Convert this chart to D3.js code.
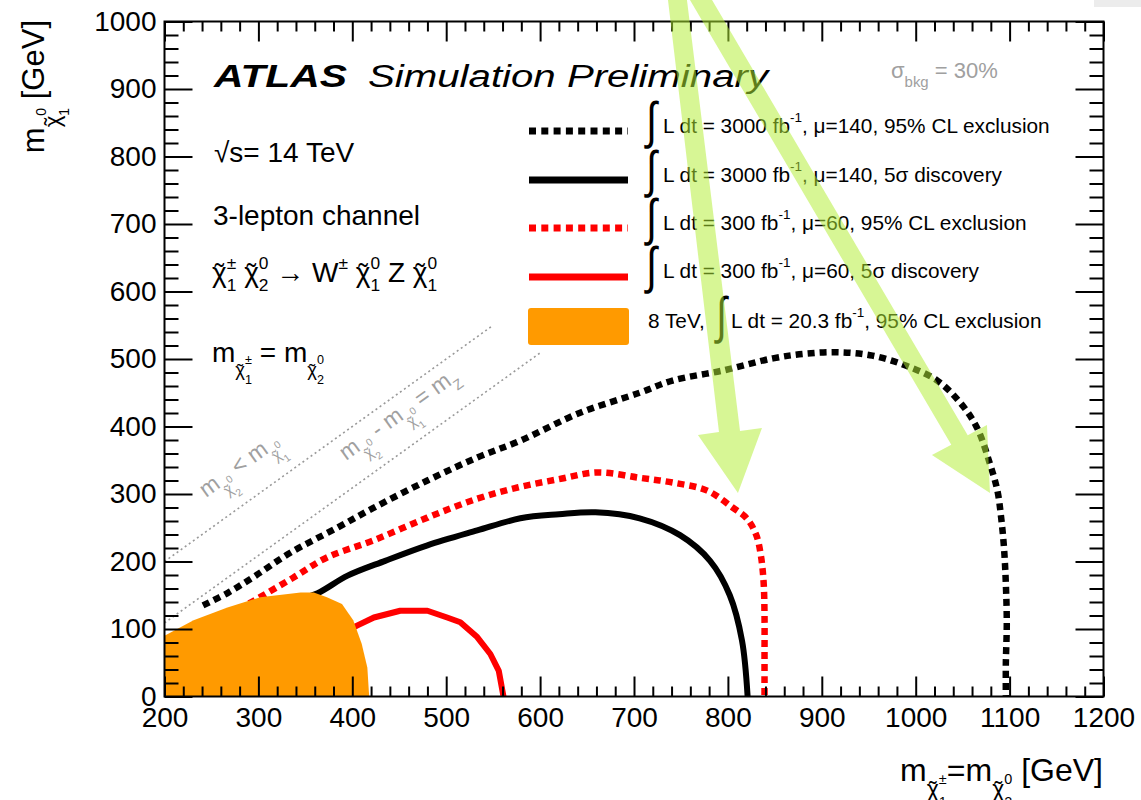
<!DOCTYPE html>
<html><head><meta charset="utf-8">
<script src="https://cdn.jsdelivr.net/npm/d3@7"></script>
<style>body{margin:0;background:#fff} svg{display:block}</style>
</head><body>
<svg id="c" width="1141" height="800"></svg>
<script>
// ---------- data ----------
const xMajorTicks = d3.range(200, 1201, 100);
const xMinorTicks = d3.range(200, 1201, 20).filter(v => v % 100 !== 0);
const yMajorTicks = d3.range(0, 1001, 100);
const yMinorTicks = d3.range(0, 1001, 20).filter(v => v % 100 !== 0);

const kinematicLine = [[200, 200], [550, 550]];   // m(chi2) = m(chi1)
const mzLine = [[200, 109], [600, 509]];          // m(chi2) - m(chi1) = mZ

const excl3000 = [[241,135],[268,154],[297,179],[334,213],[384,250],[422,279],[480,320],[533,354],[579,379],[642,420],[706,450],[741,468],[795,483],[848,501],[884,508],[919,510],[954,505],[990,490],[1023,468],[1047,436],[1065,399],[1079,345],[1087,305],[1091,265],[1094,221],[1096,167],[1097,108],[1096,49],[1096,0]];
const disc3000 = [[345,145],[363,153],[395,179],[435,201],[480,224],[533,246],[579,264],[620,270],[659,273],[706,264],[749,239],[781,201],[802,150],[815,83],[821,0]];
const excl300 = [[290,138],[299,145],[337,176],[373,206],[422,231],[480,265],[533,293],[577,310],[620,322],[661,332],[706,324],[741,317],[778,305],[805,280],[820,264],[830,240],[835,210],[838,170],[839,120],[839,60],[839,0]];
const disc300 = [[398,100],[405,105],[423,117],[451,127],[480,127],[501,117],[515,110],[533,88],[547,63],[556,38],[561,0]];
const excl8TeV = [[200,90],[231,113],[267,132],[302,147],[345,154],[359,154],[373,147],[389,137],[401,113],[410,78],[416,43],[418,0],[200,0]];

// annotation arrows (data units)
const arrow1 = [[736.2,1031.9],[756.4,1031.9],[812.9,393.3],[836.3,397.8],[810.7,301.5],[768.1,387.4],[790.5,391.9]];
const arrow2 = [[759.6,1031.9],[783.1,1031.9],[1055.4,387.1],[1075.9,402.2],[1079.1,301.5],[1017.3,357.8],[1037.9,372.9]];

const legendLabels = [
  {main:"L dt = 3000 fb", rest:", \u03bc=140, 95% CL exclusion"},
  {main:"L dt = 3000 fb", rest:", \u03bc=140, 5\u03c3 discovery"},
  {main:"L dt = 300 fb", rest:", \u03bc=60, 95% CL exclusion"},
  {main:"L dt = 300 fb", rest:", \u03bc=60, 5\u03c3 discovery"}
];

// ---------- setup ----------
const FONT = "'Liberation Sans', Arial, Helvetica, sans-serif";
const svg = d3.select('#c');
const x = d3.scaleLinear().domain([200, 1200]).range([164.5, 1103.5]);
const y = d3.scaleLinear().domain([0, 1000]).range([696.5, 21.5]);

svg.append('rect').attr('x', 1094).attr('y', 0).attr('width', 47).attr('height', 7).attr('fill', '#ececec');

const line = d3.line().x(d => x(d[0])).y(d => y(d[1]));
const smooth = d3.line().x(d => x(d[0])).y(d => y(d[1])).curve(d3.curveCatmullRom.alpha(0.5));

// gray dotted guide lines
[kinematicLine, mzLine].forEach(l => {
  svg.append('path').attr('d', line(l)).attr('fill', 'none').attr('stroke', '#999')
    .attr('stroke-width', 1.6).attr('stroke-dasharray', '2,3');
});

// curves
svg.append('path').attr('d', smooth(excl3000)).attr('fill','none').attr('stroke','#000').attr('stroke-width',6.5).attr('stroke-dasharray','7,5');
svg.append('path').attr('d', smooth(disc3000)).attr('fill','none').attr('stroke','#000').attr('stroke-width',6);
svg.append('path').attr('d', smooth(excl300)).attr('fill','none').attr('stroke','#ff0000').attr('stroke-width',6.5).attr('stroke-dasharray','7,5');
svg.append('path').attr('d', line(disc300)).attr('fill','none').attr('stroke','#ff0000').attr('stroke-width',6).attr('stroke-linejoin','round');

// 8 TeV exclusion
svg.append('path').attr('d', line(excl8TeV) + 'Z').attr('fill', '#ff9a00');

// ---------- axes ----------
function styleAxis(g) {
  g.select('.domain').remove();
  g.selectAll('.tick line').attr('stroke', '#000').attr('stroke-width', 2);
  g.selectAll('.tick text').attr('font-family', FONT).attr('font-size', 28).attr('fill', '#000');
}
svg.append('g').attr('transform', `translate(0,${y(0)})`)
  .call(d3.axisBottom(x).tickValues(xMajorTicks).tickSize(-20).tickPadding(11).tickFormat(d3.format('d'))).call(styleAxis);
svg.append('g').attr('transform', `translate(0,${y(0)})`)
  .call(d3.axisBottom(x).tickValues(xMinorTicks).tickSize(-10).tickFormat('')).call(styleAxis);
svg.append('g').attr('transform', `translate(0,${y(1000)})`)
  .call(d3.axisTop(x).tickValues(xMajorTicks).tickSize(-20).tickFormat('')).call(styleAxis);
svg.append('g').attr('transform', `translate(0,${y(1000)})`)
  .call(d3.axisTop(x).tickValues(xMinorTicks).tickSize(-10).tickFormat('')).call(styleAxis);
svg.append('g').attr('transform', `translate(${x(200)},0)`)
  .call(d3.axisLeft(y).tickValues(yMajorTicks).tickSize(-28).tickPadding(8).tickFormat(d3.format('d'))).call(styleAxis);
svg.append('g').attr('transform', `translate(${x(200)},0)`)
  .call(d3.axisLeft(y).tickValues(yMinorTicks).tickSize(-14).tickFormat('')).call(styleAxis);
svg.append('g').attr('transform', `translate(${x(1200)},0)`)
  .call(d3.axisRight(y).tickValues(yMajorTicks).tickSize(-28).tickFormat('')).call(styleAxis);
svg.append('g').attr('transform', `translate(${x(1200)},0)`)
  .call(d3.axisRight(y).tickValues(yMinorTicks).tickSize(-14).tickFormat('')).call(styleAxis);

svg.append('rect').attr('x', x(200)).attr('y', y(1000)).attr('width', x(1200) - x(200)).attr('height', y(0) - y(1000))
  .attr('fill', 'none').attr('stroke', '#000').attr('stroke-width', 2);

// ---------- rich text helper ----------
function rich(px, py, parts, opts) {
  const g = svg.append('g').attr('transform', `translate(${px},${py}) rotate(${opts.rotate || 0})`);
  const text = g.append('text').attr('font-family', FONT).attr('fill', opts.color || '#000')
    .attr('xml:space', 'preserve').style('white-space', 'pre');
  let cx = 0, prevX = 0, prevW = 0;
  parts.forEach(p => {
    const fs = opts.size * (p.s || 1);
    const ts = text.append('tspan').attr('y', -(p.up || 0) * opts.size).attr('font-size', fs).text(p.t);
    const w = ts.node().getComputedTextLength();
    if (p.over) {
      ts.attr('x', prevX + (prevW - w) / 2);
    } else if (p.stack) {
      ts.attr('x', prevX);
      cx = prevX + Math.max(prevW, w);
    } else {
      ts.attr('x', cx);
      prevX = cx; prevW = w; cx = cx + w;
    }
  });
  if (opts.anchor === 'end') text.attr('transform', `translate(${-cx},0)`);
  return cx;
}
const subChi = (sup, sub, k = 0.66) => [
  {t: '\u03c7', s: k, up: -0.5},
  {t: '\u02dc', s: k, up: -0.52, over: true},
  {t: sup, s: 0.45, up: -0.08},
  {t: sub, s: 0.45, up: -0.8, stack: true}
];
const chiFull = (sup, sub) => [
  {t: '\u03c7'},
  {t: '\u02dc', up: -0.03, over: true},
  {t: sup, s: 0.62, up: 0.48},
  {t: sub, s: 0.62, up: -0.32, stack: true}
];

// axis titles
rich(44, 20, [{t:'m'}, ...subChi('0','1', 0.72), {t:' [GeV]'}], {size: 31, rotate: -90, anchor: 'end'});
rich(1103, 781, [{t:'m'}, ...subChi('\u00b1','1', 0.72), {t:'=m'}, ...subChi('0','2', 0.72), {t:' [GeV]'}], {size: 32, anchor: 'end'});

// ATLAS label
svg.append('text').attr('x', 214).attr('y', 87).attr('font-family', FONT).attr('font-size', 31)
  .attr('font-weight', 'bold').attr('font-style', 'italic').attr('textLength', 133).attr('lengthAdjust', 'spacingAndGlyphs').text('ATLAS');
svg.append('text').attr('x', 368).attr('y', 87).attr('font-family', FONT).attr('font-size', 31)
  .attr('font-style', 'italic').attr('textLength', 400).attr('lengthAdjust', 'spacingAndGlyphs').text('Simulation Preliminary');

svg.append('text').attr('x', 214).attr('y', 162).attr('font-family', FONT).attr('font-size', 28).text('\u221as= 14 TeV');
svg.append('text').attr('x', 213).attr('y', 225).attr('font-family', FONT).attr('font-size', 28).text('3-lepton channel');

rich(212, 282, [...chiFull('\u00b1','1'), {t:' '}, ...chiFull('0','2'), {t:' \u2192 W'}, {t:'\u00b1', s:0.62, up:0.48},
  {t:' '}, ...chiFull('0','1'), {t:' Z '}, ...chiFull('0','1')], {size: 28});

rich(212, 362, [{t:'m'}, ...subChi('\u00b1','1'), {t:' = m'}, ...subChi('0','2')], {size: 28});

// sigma label
rich(891, 78, [{t:'\u03c3'}, {t:'bkg', s:0.68, up:-0.4}, {t:' = 30%'}], {size: 22, color: '#a0a0a0'});

// diagonal labels
const ang = -Math.atan((y(0) - y(100)) / (x(300) - x(200))) * 180 / Math.PI;
rich(206, 498, [{t:'m'}, ...subChi('0','2'), {t:' < m'}, ...subChi('0','1')], {size: 23, rotate: ang, color: '#a0a0a0'});
rich(346, 461, [{t:'m'}, ...subChi('0','2'), {t:' - m'}, ...subChi('0','1'), {t:' = m'}, {t:'Z', s:0.62, up:-0.35}], {size: 23, rotate: ang, color: '#a0a0a0'});

// ---------- legend ----------
const rowY = [133, 182, 230, 278, 328];
const symY = [131, 180, 228, 277];
const legStyles = [
  {c:'#000', dash:'7,5.3'}, {c:'#000', dash:null}, {c:'#ff0000', dash:'7,5.3'}, {c:'#ff0000', dash:null}
];
legStyles.forEach((s, i) => {
  const p = svg.append('line').attr('x1', 529).attr('x2', 628).attr('y1', symY[i]).attr('y2', symY[i])
    .attr('stroke', s.c).attr('stroke-width', 7);
  if (s.dash) p.attr('stroke-dasharray', s.dash);
});
svg.append('rect').attr('x', 528).attr('y', 308).attr('width', 101).attr('height', 37).attr('rx', 3).attr('fill', '#ff9a00');

function integral(px, base) {
  svg.append('g').attr('transform', `translate(${px},${base + 5}) scale(0.85,1.11)`)
    .append('text').attr('x', 0).attr('y', 0).attr('font-family', FONT).attr('font-size', 46).text('\u222b');
}
legendLabels.forEach((l, i) => {
  integral(646, rowY[i]);
  rich(663, rowY[i], [{t:l.main}, {t:'-1', s:0.65, up:0.55}, {t:l.rest}], {size: 20.8});
});
svg.append('text').attr('x', 648).attr('y', rowY[4]).attr('font-family', FONT).attr('font-size', 20.8).text('8 TeV,');
integral(716, rowY[4]);
rich(731, rowY[4], [{t:'L dt = 20.3 fb'}, {t:'-1', s:0.65, up:0.55}, {t:', 95% CL exclusion'}], {size: 20.8});

// ---------- annotation arrows ----------
[arrow1, arrow2].forEach(a => {
  svg.append('path').attr('d', line(a) + 'Z').attr('fill', 'rgba(178,238,52,0.52)');
});
</script>
</body></html>
